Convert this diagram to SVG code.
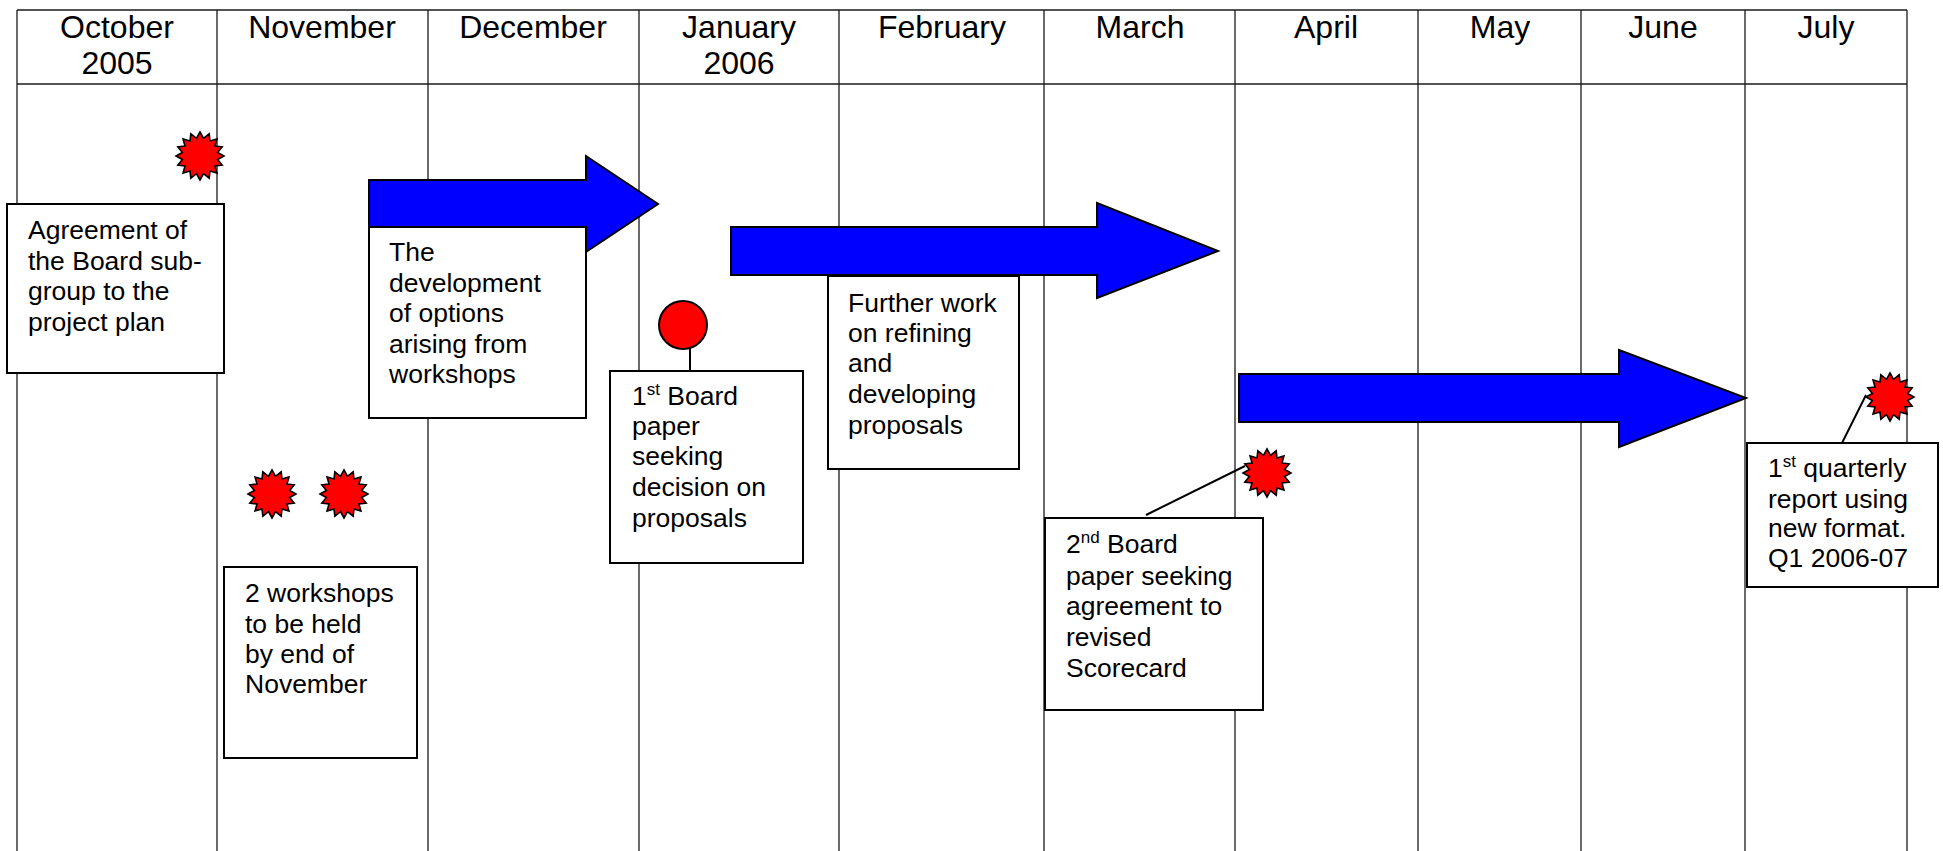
<svg xmlns="http://www.w3.org/2000/svg" width="1943" height="851" viewBox="0 0 1943 851">
  <defs>
    <style>
      .grid { stroke: #1a1a1a; stroke-width: 1.3; fill: none; }
      .month { font-family: "Liberation Sans", Arial, sans-serif; font-size: 32px; fill: #000; text-anchor: middle; }
      .note { font-family: "Liberation Sans", Arial, sans-serif; font-size: 26.5px; fill: #000; }
      .sup { font-size: 17px; }
      .box { fill: #fff; stroke: #000; stroke-width: 2; }
      .shadow { fill: none; stroke: #9a9a9a; stroke-width: 2; }
      .arrow { fill: #0000ff; stroke: #000; stroke-width: 2; stroke-linejoin: miter; }
      .burst { fill: #ff0000; stroke: #000; stroke-width: 1.6; stroke-linejoin: miter; }
      .dot { fill: #ff0000; stroke: #000; stroke-width: 2; }
      .link { stroke: #000; stroke-width: 2; fill: none; }
    </style>
    <!-- 16-point burst used for milestones -->
    <polygon id="burst" class="burst" points="0,-24 3.51,-17.65 9.18,-22.17 10,-14.97 16.97,-16.97 14.97,-10 22.17,-9.18 17.65,-3.51 24,0 17.65,3.51 22.17,9.18 14.97,10 16.97,16.97 10,14.97 9.18,22.17 3.51,17.65 0,24 -3.51,17.65 -9.18,22.17 -10,14.97 -16.97,16.97 -14.97,10 -22.17,9.18 -17.65,3.51 -24,0 -17.65,-3.51 -22.17,-9.18 -14.97,-10 -16.97,-16.97 -10,-14.97 -9.18,-22.17 -3.51,-17.65"/>
  </defs>

  <rect width="1943" height="851" fill="#fff"/>

  <!-- month grid -->
  <g id="grid" class="grid">
    <line x1="17" y1="10" x2="1907" y2="10"/>
    <line x1="17" y1="84" x2="1907" y2="84"/>
    <line x1="17" y1="10" x2="17" y2="851"/>
    <line x1="217" y1="10" x2="217" y2="851"/>
    <line x1="428" y1="10" x2="428" y2="851"/>
    <line x1="639" y1="10" x2="639" y2="851"/>
    <line x1="839" y1="10" x2="839" y2="851"/>
    <line x1="1044" y1="10" x2="1044" y2="851"/>
    <line x1="1235" y1="10" x2="1235" y2="851"/>
    <line x1="1418" y1="10" x2="1418" y2="851"/>
    <line x1="1581" y1="10" x2="1581" y2="851"/>
    <line x1="1745" y1="10" x2="1745" y2="851"/>
    <line x1="1907" y1="10" x2="1907" y2="851"/>
  </g>

  <g id="months" class="month">
    <text x="117" y="38">October</text>
    <text x="117" y="74">2005</text>
    <text x="322" y="38">November</text>
    <text x="533" y="38">December</text>
    <text x="739" y="38">January</text>
    <text x="739" y="74">2006</text>
    <text x="942" y="38">February</text>
    <text x="1140" y="38">March</text>
    <text x="1326" y="38">April</text>
    <text x="1500" y="38">May</text>
    <text x="1663" y="38">June</text>
    <text x="1826" y="38">July</text>
  </g>

  <!-- work-stream arrows -->
  <g id="arrow-options">
    <polygon class="arrow" points="369,180 586,180 586,156 658,204 586,252 586,227 369,227"/>
  </g>
  <g id="arrow-refining">
    <polygon class="arrow" points="731,227 1097,227 1097,203 1218,251 1097,298 1097,275 731,275"/>
  </g>
  <g id="arrow-scorecard">
    <polygon class="arrow" points="1239,374 1619,374 1619,350 1746,398 1619,447 1619,422 1239,422"/>
  </g>

  <!-- activity boxes -->
  <g id="box-agreement">
    <rect class="box" x="7" y="204" width="217" height="169"/>
    <text class="note" x="28" y="239">Agreement of</text>
    <text class="note" x="28" y="270">the Board sub-</text>
    <text class="note" x="28" y="300">group to the</text>
    <text class="note" x="28" y="331">project plan</text>
  </g>

  <g id="box-options">
    <rect class="box" x="369" y="227" width="217" height="191"/>
    <text class="note" x="389" y="261">The</text>
    <text class="note" x="389" y="292">development</text>
    <text class="note" x="389" y="322">of options</text>
    <text class="note" x="389" y="353">arising from</text>
    <text class="note" x="389" y="383">workshops</text>
  </g>

  <g id="box-workshops">
    <rect class="box" x="224" y="567" width="193" height="191"/>
    <text class="note" x="245" y="602">2 workshops</text>
    <text class="note" x="245" y="633">to be held</text>
    <text class="note" x="245" y="663">by end of</text>
    <text class="note" x="245" y="693">November</text>
  </g>

  <g id="box-first-paper">
    <rect class="box" x="610" y="371" width="193" height="192"/>
    <text class="note" x="632" y="405">1<tspan class="sup" dy="-10">st</tspan><tspan dy="10"> Board</tspan></text>
    <text class="note" x="632" y="435">paper</text>
    <text class="note" x="632" y="465">seeking</text>
    <text class="note" x="632" y="496">decision on</text>
    <text class="note" x="632" y="527">proposals</text>
  </g>

  <g id="box-refining">
    <rect class="box" x="828" y="276" width="191" height="193"/>
    <text class="note" x="848" y="312">Further work</text>
    <text class="note" x="848" y="342">on refining</text>
    <text class="note" x="848" y="372">and</text>
    <text class="note" x="848" y="403">developing</text>
    <text class="note" x="848" y="434">proposals</text>
  </g>

  <g id="box-second-paper">
    <rect class="box" x="1045" y="518" width="218" height="192"/>
    <text class="note" x="1066" y="553">2<tspan class="sup" dy="-10">nd</tspan><tspan dy="10"> Board</tspan></text>
    <text class="note" x="1066" y="585">paper seeking</text>
    <text class="note" x="1066" y="615">agreement to</text>
    <text class="note" x="1066" y="646">revised</text>
    <text class="note" x="1066" y="677">Scorecard</text>
  </g>

  <g id="box-quarterly">
    <rect class="box" x="1747" y="443" width="191" height="144"/>
    <text class="note" x="1768" y="477">1<tspan class="sup" dy="-10">st</tspan><tspan dy="10"> quarterly</tspan></text>
    <text class="note" x="1768" y="508">report using</text>
    <text class="note" x="1768" y="537">new format.</text>
    <text class="note" x="1768" y="567">Q1 2006-07</text>
  </g>

  <!-- callout leaders -->
  <g id="connectors">
    <line class="link" x1="690" y1="347" x2="690" y2="371"/>
    <line class="link" x1="1245" y1="466" x2="1146" y2="515"/>
    <line class="link" x1="1866" y1="395" x2="1842" y2="443"/>
  </g>

  <!-- milestone markers -->
  <g id="star-agreement"><use href="#burst" transform="translate(200,156)"/></g>
  <g id="star-workshop-1"><use href="#burst" transform="translate(272,494)"/></g>
  <g id="star-workshop-2"><use href="#burst" transform="translate(344,494)"/></g>
  <g id="dot-first-paper"><circle class="dot" cx="683" cy="325" r="24"/></g>
  <g id="star-second-paper"><use href="#burst" transform="translate(1267,473)"/></g>
  <g id="star-quarterly"><use href="#burst" transform="translate(1890,397)"/></g>
</svg>
